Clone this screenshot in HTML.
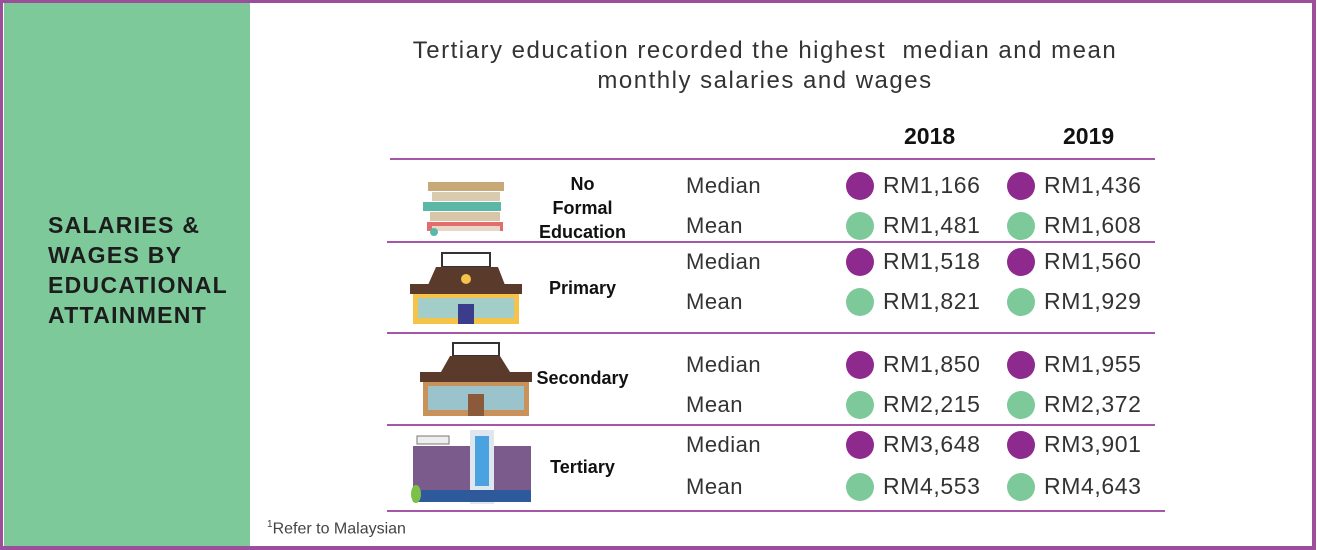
<!DOCTYPE html>
<html><head><meta charset="utf-8"><style>
body{margin:0;width:1317px;height:550px;overflow:hidden;background:#fff;font-family:"Liberation Sans",sans-serif;}
#frame{position:absolute;left:0;top:0;width:1309px;height:543px;border:3px solid #9b4f9b;border-right-width:4px;border-bottom-width:4px;}
#side{position:absolute;left:4px;top:3px;width:246px;height:543px;background:#7dc99a;}
#side div{position:absolute;left:44px;top:207px;font-weight:bold;font-size:23px;line-height:30px;color:#1d1d1d;letter-spacing:1.3px;}
.t{position:absolute;white-space:nowrap;}
.title{left:365px;width:800px;text-align:center;font-size:24px;line-height:30px;color:#333;top:36px;letter-spacing:1.5px;}
.yr{font-weight:bold;font-size:23px;color:#111;top:123px;}
.line{position:absolute;height:2px;background:#a656a6;}
.lab{font-size:22px;color:#333;letter-spacing:0.5px;}
.val{font-size:23px;color:#333;letter-spacing:0.6px;}
.dot{position:absolute;width:28px;height:28px;border-radius:50%;}
.cat{font-weight:bold;font-size:18px;color:#111;text-align:center;line-height:24px;}
</style></head><body>
<div id="frame"></div>
<div id="side"><div>SALARIES &amp;<br>WAGES BY<br>EDUCATIONAL<br>ATTAINMENT</div></div>
<div class="t title">Tertiary education recorded the highest&nbsp; median and mean<br>monthly salaries and wages</div>
<div class="t yr" style="left:904px">2018</div>
<div class="t yr" style="left:1063px">2019</div>
<div class="t" style="left:267px;top:519px;font-size:16px;color:#444"><sup style="font-size:10px">1</sup>Refer to Malaysian</div>
<div id="root"></div>
<svg width="1317" height="550" style="position:absolute;left:0;top:0">
<g>
<rect x="428" y="182" width="76" height="9" fill="#c8a877"/><rect x="432" y="192" width="68" height="9" fill="#d9cbb0"/>
<rect x="423" y="202" width="78" height="9" fill="#5cb8a6"/><rect x="430" y="212" width="70" height="9" fill="#d8c6a8"/>
<rect x="427" y="222" width="76" height="9" fill="#e36c6c"/><rect x="432" y="226" width="68" height="5" fill="#e8d6c6"/>
<circle cx="434" cy="232" r="4" fill="#5cb8a6"/></g>
<g>
<rect x="442" y="253" width="48" height="14" fill="#fff" stroke="#333" stroke-width="2"/>
<polygon points="428,285 436,267 498,267 505,285" fill="#5a3a2a"/>
<rect x="410" y="284" width="112" height="10" fill="#5a3a2a"/>
<rect x="413" y="294" width="106" height="30" fill="#f5c24a"/>
<rect x="418" y="298" width="96" height="20" fill="#8fd0e8" opacity=".8"/>
<rect x="458" y="304" width="16" height="20" fill="#3c3c8c"/><circle cx="466" cy="279" r="5" fill="#f5c24a"/></g>
<g>
<rect x="453" y="343" width="46" height="13" fill="#fff" stroke="#333" stroke-width="2"/>
<polygon points="441,372 450,356 500,356 510,372" fill="#5a3a2a"/>
<rect x="420" y="372" width="112" height="10" fill="#5a3a2a"/>
<rect x="423" y="382" width="106" height="34" fill="#c8925a"/>
<rect x="428" y="386" width="96" height="24" fill="#8fd0e8" opacity=".8"/>
<rect x="468" y="394" width="16" height="22" fill="#8a5a3a"/></g>
<g>
<rect x="413" y="446" width="118" height="54" fill="#7b5a8c"/>
<rect x="470" y="430" width="24" height="74" fill="#dfe6ee"/><rect x="475" y="436" width="14" height="50" fill="#4aa3e0"/>
<rect x="417" y="436" width="32" height="8" fill="#eee" stroke="#777"/>
<rect x="413" y="490" width="118" height="12" fill="#2e5a9c"/>
<ellipse cx="416" cy="494" rx="5" ry="9" fill="#7cc04a"/></g>
</svg>
<script>
var categories=["No Formal Education","Primary","Secondary","Tertiary"];
var median2018=[1166,1518,1850,3648];
var median2019=[1436,1560,1955,3901];
var mean2018=[1481,1821,2215,4553];
var mean2019=[1608,1929,2372,4643];
var root=document.getElementById('root');
var medY=[186,262,365,445], meanY=[226,302,405,487], catY=[172,276,366,455];
var lineY=[158,241,332,424,510];
function fmt(v){return 'RM'+v.toLocaleString('en-US');}
function add(cls,style,html,name){var d=document.createElement('div');d.className=cls;d.setAttribute('style',style);d.innerHTML=html;


root.appendChild(d);return d;}
lineY.forEach(function(y,i){add('line','left:'+(i==0?390:387)+'px;top:'+y+'px;width:'+(i==0?765:(i==4?778:768))+'px','', 'row-divider');});
categories.forEach(function(c,i){
 var txt=c=="No Formal Education"?"No<br>Formal<br>Education":c;
 add('t cat','left:520px;width:125px;top:'+catY[i]+'px',txt,'category-label');
 add('t lab','left:686px;top:'+(medY[i]-13)+'px','Median','median-label');
 add('t lab','left:686px;top:'+(meanY[i]-13)+'px','Mean','mean-label');
 [[median2018,medY,846,'#8e2a8e'],[median2019,medY,1007,'#8e2a8e'],[mean2018,meanY,846,'#7dc99a'],[mean2019,meanY,1007,'#7dc99a']].forEach(function(s){
  var y=s[1][i];
  add('dot','left:'+s[2]+'px;top:'+(y-14)+'px;background:'+s[3],'','value-dot');
  add('t val','left:'+(s[2]+37)+'px;top:'+(y-14)+'px',fmt(s[0][i]),'salary-value');
 });
});
</script>
</body></html>
